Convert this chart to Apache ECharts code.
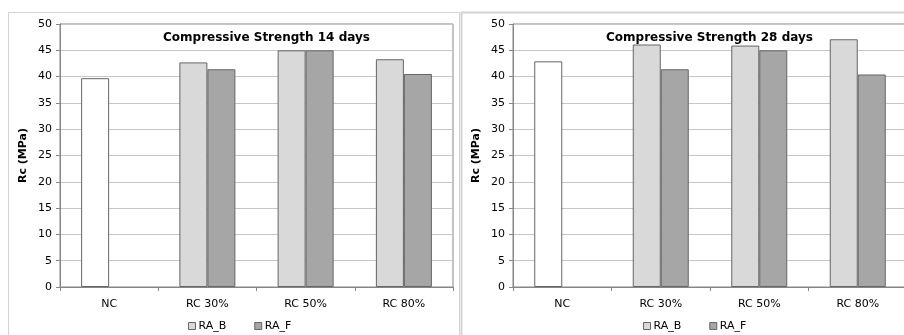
<!DOCTYPE html>
<html><head><meta charset="utf-8">
<script src="https://cdn.jsdelivr.net/npm/echarts@6/dist/echarts.min.js"></script>
<style>html,body{margin:0;padding:0;background:#fff;overflow:hidden;}#c{width:912px;height:335px;}</style>
</head><body><div id="c"></div>
<script>
var categories = ['NC', 'RC 30%', 'RC 50%', 'RC 80%'];
var yTicks = [0, 5, 10, 15, 20, 25, 30, 35, 40, 45, 50];
var title14 = 'Compressive Strength 14 days';
var title28 = 'Compressive Strength 28 days';
var seriesNames = ['RA_B', 'RA_F'];
var raB14 = [39.7, 42.7, 45.0, 43.3];
var raF14 = [null, 41.4, 45.0, 40.5];
var raB28 = [42.9, 46.1, 45.9, 47.1];
var raF28 = [null, 41.4, 45.0, 40.4];
var yName = 'Rc (MPa)';

var FONT = 'DejaVu Sans';
var chart = echarts.init(document.getElementById('c'), null, {renderer: 'canvas'});

function withNC(arr) {
  return arr.map(function (v, i) {
    if (v === null) return '-';
    if (i === 0) return {value: v, itemStyle: {color: '#ffffff'}};
    return v;
  });
}

function xAx(g) {
  return {
    type: 'category', gridIndex: g, data: categories,
    axisLine: {show: true, lineStyle: {color: '#868686', width: 1}},
    axisTick: {show: true, length: 4, lineStyle: {color: '#868686'}},
    axisLabel: {fontFamily: FONT, fontSize: 11, color: '#000', margin: 12}
  };
}
function yAx(g) {
  return {
    type: 'value', gridIndex: g, min: yTicks[0], max: yTicks[yTicks.length - 1], interval: 5,
    name: yName, nameLocation: 'middle', nameGap: 31, nameRotate: 90,
    nameTextStyle: {fontFamily: FONT, fontSize: 11, fontWeight: 'bold', color: '#000'},
    axisLine: {show: true, lineStyle: {color: '#868686', width: 1}},
    axisTick: {show: true, length: 4, lineStyle: {color: '#868686'}},
    axisLabel: {fontFamily: FONT, fontSize: 11, color: '#000', margin: 8},
    splitLine: {show: true, lineStyle: {color: '#c6c6c6', width: 1}}
  };
}
function bar(name, data, g, color) {
  return {
    type: 'bar', name: name, xAxisIndex: g, yAxisIndex: g, data: data,
    barWidth: 28, barGap: '0%',
    itemStyle: {color: color, borderColor: '#666666', borderWidth: 1},
    emphasis: {disabled: true}
  };
}

var legendText = {fontFamily: FONT, fontSize: 11, color: '#000', lineHeight: 12, padding: [0, 0, 0, -2]};

var option = {
  animation: false,
  backgroundColor: '#ffffff',
  graphic: [
    {type: 'rect', shape: {x: 8.5, y: 12.5, width: 451, height: 400}, style: {fill: 'none', stroke: '#d4d4d4', lineWidth: 1}, silent: true, z: -10},
    {type: 'rect', shape: {x: 461.5, y: 12.5, width: 500, height: 400}, style: {fill: 'none', stroke: '#d4d4d4', lineWidth: 2}, silent: true, z: -10}
  ],
  title: [
    {text: title14, left: 158, top: 27, textStyle: {fontFamily: FONT, fontSize: 12, fontWeight: 'bold', color: '#000'}},
    {text: title28, left: 601, top: 27, textStyle: {fontFamily: FONT, fontSize: 12, fontWeight: 'bold', color: '#000'}}
  ],
  legend: [
    {data: seriesNames, left: 186, top: 318, padding: 2, itemWidth: 7, itemHeight: 7, itemGap: 28, icon: 'rect',
     textStyle: legendText, itemStyle: {borderColor: '#666666', borderWidth: 1}},
    {data: seriesNames, left: 641, top: 318, padding: 2, itemWidth: 7, itemHeight: 7, itemGap: 28, icon: 'rect',
     textStyle: legendText, itemStyle: {borderColor: '#666666', borderWidth: 1}}
  ],
  grid: [
    {left: 60, top: 24, width: 393, height: 263, show: true, borderColor: '#868686', borderWidth: 1, backgroundColor: 'transparent'},
    {left: 513, top: 24, width: 394, height: 263, show: true, borderColor: '#868686', borderWidth: 1, backgroundColor: 'transparent'}
  ],
  xAxis: [xAx(0), xAx(1)],
  yAxis: [yAx(0), yAx(1)],
  series: [
    bar(seriesNames[0], withNC(raB14), 0, '#d9d9d9'),
    bar(seriesNames[1], withNC(raF14), 0, '#a6a6a6'),
    bar(seriesNames[0], withNC(raB28), 1, '#d9d9d9'),
    bar(seriesNames[1], withNC(raF28), 1, '#a6a6a6')
  ]
};
chart.setOption(option);
</script>
</body></html>
